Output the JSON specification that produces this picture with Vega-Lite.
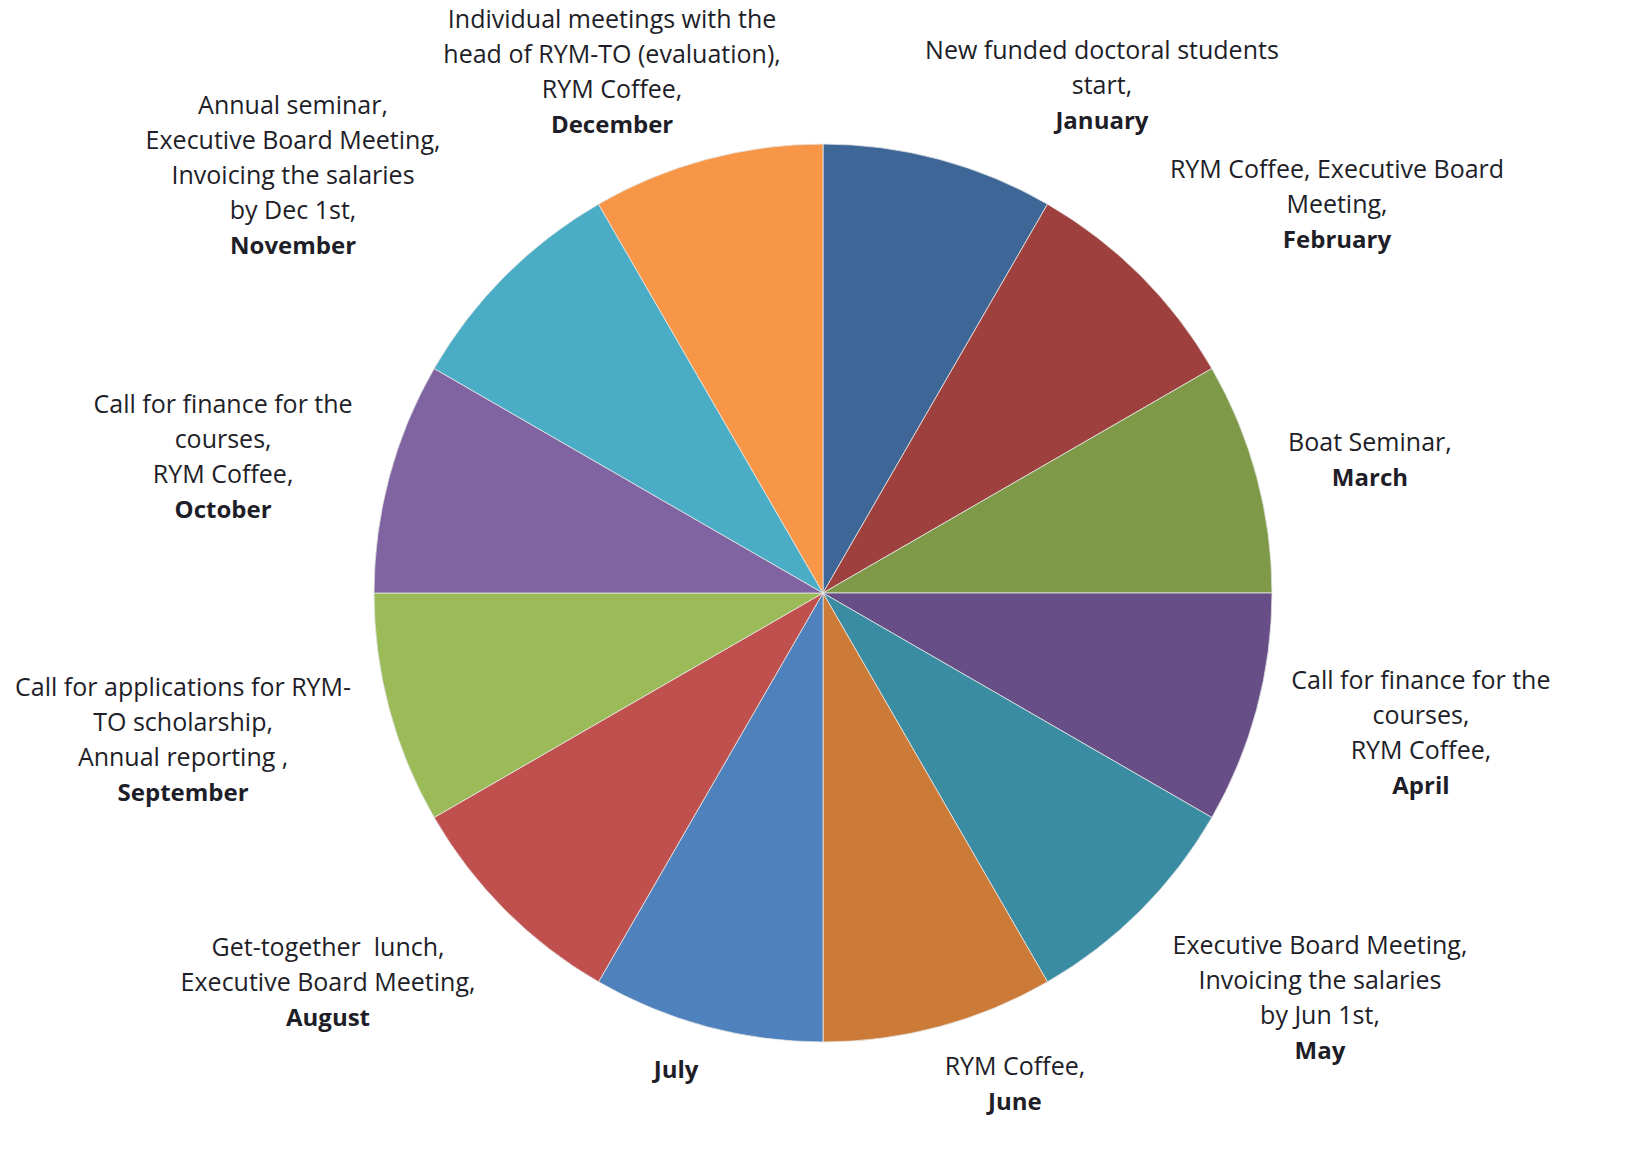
{
  "$schema": "https://vega.github.io/schema/vega-lite/v6.json",
  "width": 1646,
  "height": 1186,
  "autosize": "none",
  "padding": 0,
  "background": "white",
  "config": {"view": {"stroke": null}, "font": "Open Sans"},
  "data": {"values": [
    {"idx": 1, "month": "January", "value": 1, "desc": ["New funded doctoral students", "start,"]},
    {"idx": 2, "month": "February", "value": 1, "desc": ["RYM Coffee,  Executive Board", "Meeting,"]},
    {"idx": 3, "month": "March", "value": 1, "desc": ["Boat Seminar,"]},
    {"idx": 4, "month": "April", "value": 1, "desc": ["Call for finance for the", "courses,", "RYM Coffee,"]},
    {"idx": 5, "month": "May", "value": 1, "desc": ["Executive Board Meeting,", "Invoicing the salaries", "by Jun 1st,"]},
    {"idx": 6, "month": "June", "value": 1, "desc": ["RYM Coffee,"]},
    {"idx": 7, "month": "July", "value": 1, "desc": [""]},
    {"idx": 8, "month": "August", "value": 1, "desc": ["Get-together \u00a0lunch,", "Executive Board Meeting,"]},
    {"idx": 9, "month": "September", "value": 1, "desc": ["Call for applications for RYM-", "TO scholarship,", "Annual reporting ,"]},
    {"idx": 10, "month": "October", "value": 1, "desc": ["Call for finance for the", "courses,", "RYM Coffee,"]},
    {"idx": 11, "month": "November", "value": 1, "desc": ["Annual seminar,", "Executive Board Meeting,", "Invoicing the salaries", "by Dec 1st,"]},
    {"idx": 12, "month": "December", "value": 1, "desc": ["Individual meetings with the", "head of RYM-TO (evaluation),", "RYM Coffee,"]}
  ]},
  "encoding": {
    "theta": {"field": "value", "type": "quantitative", "stack": true},
    "order": {"field": "idx", "type": "quantitative"}
  },
  "layer": [
    {
      "mark": {"type": "arc", "outerRadius": 449, "stroke": "#e6e6e6", "strokeWidth": 0.8},
      "encoding": {
        "color": {
          "field": "month", "type": "nominal", "legend": null,
          "scale": {
            "domain": ["January", "February", "March", "April", "May", "June", "July", "August", "September", "October", "November", "December"],
            "range": ["#3E6798", "#9E413E", "#7E9A48", "#684E87", "#3A8CA3", "#CC7A37", "#4F81BD", "#C0504D", "#9BBB59", "#8064A2", "#4BACC6", "#F79646"]
          }
        }
      }
    },
    {"mark": {"type": "text", "radius": 560, "dx": 134, "dy": 7, "fontSize": 25, "lineHeight": 35, "align": "center", "baseline": "alphabetic", "color": "#1e1e28"},
     "encoding": {"text": {"condition": {"test": "datum.month === 'January'", "field": "desc"}, "value": ""}}},
    {"mark": {"type": "text", "radius": 560, "dx": 134, "dy": 77, "fontSize": 24, "fontWeight": "bold", "align": "center", "baseline": "alphabetic", "color": "#1e1e28"},
     "encoding": {"text": {"condition": {"test": "datum.month === 'January'", "field": "month"}, "value": ""}}},
    {"mark": {"type": "text", "radius": 560, "dx": 118, "dy": -19, "fontSize": 25, "lineHeight": 35, "align": "center", "baseline": "alphabetic", "color": "#1e1e28"},
     "encoding": {"text": {"condition": {"test": "datum.month === 'February'", "field": "desc"}, "value": ""}}},
    {"mark": {"type": "text", "radius": 560, "dx": 118, "dy": 51, "fontSize": 24, "fontWeight": "bold", "align": "center", "baseline": "alphabetic", "color": "#1e1e28"},
     "encoding": {"text": {"condition": {"test": "datum.month === 'February'", "field": "month"}, "value": ""}}},
    {"mark": {"type": "text", "radius": 560, "dx": 6, "dy": 3, "fontSize": 25, "lineHeight": 35, "align": "center", "baseline": "alphabetic", "color": "#1e1e28"},
     "encoding": {"text": {"condition": {"test": "datum.month === 'March'", "field": "desc"}, "value": ""}}},
    {"mark": {"type": "text", "radius": 560, "dx": 6, "dy": 38, "fontSize": 24, "fontWeight": "bold", "align": "center", "baseline": "alphabetic", "color": "#1e1e28"},
     "encoding": {"text": {"condition": {"test": "datum.month === 'March'", "field": "month"}, "value": ""}}},
    {"mark": {"type": "text", "radius": 560, "dx": 57, "dy": -49, "fontSize": 25, "lineHeight": 35, "align": "center", "baseline": "alphabetic", "color": "#1e1e28"},
     "encoding": {"text": {"condition": {"test": "datum.month === 'April'", "field": "desc"}, "value": ""}}},
    {"mark": {"type": "text", "radius": 560, "dx": 57, "dy": 56, "fontSize": 24, "fontWeight": "bold", "align": "center", "baseline": "alphabetic", "color": "#1e1e28"},
     "encoding": {"text": {"condition": {"test": "datum.month === 'April'", "field": "month"}, "value": ""}}},
    {"mark": {"type": "text", "radius": 560, "dx": 101, "dy": -35, "fontSize": 25, "lineHeight": 35, "align": "center", "baseline": "alphabetic", "color": "#1e1e28"},
     "encoding": {"text": {"condition": {"test": "datum.month === 'May'", "field": "desc"}, "value": ""}}},
    {"mark": {"type": "text", "radius": 560, "dx": 101, "dy": 70, "fontSize": 24, "fontWeight": "bold", "align": "center", "baseline": "alphabetic", "color": "#1e1e28"},
     "encoding": {"text": {"condition": {"test": "datum.month === 'May'", "field": "month"}, "value": ""}}},
    {"mark": {"type": "text", "radius": 560, "dx": 47, "dy": -59, "fontSize": 25, "lineHeight": 35, "align": "center", "baseline": "alphabetic", "color": "#1e1e28"},
     "encoding": {"text": {"condition": {"test": "datum.month === 'June'", "field": "desc"}, "value": ""}}},
    {"mark": {"type": "text", "radius": 560, "dx": 47, "dy": -24, "fontSize": 24, "fontWeight": "bold", "align": "center", "baseline": "alphabetic", "color": "#1e1e28"},
     "encoding": {"text": {"condition": {"test": "datum.month === 'June'", "field": "month"}, "value": ""}}},
    {"mark": {"type": "text", "radius": 560, "dx": -2, "dy": -56, "fontSize": 24, "fontWeight": "bold", "align": "center", "baseline": "alphabetic", "color": "#1e1e28"},
     "encoding": {"text": {"condition": {"test": "datum.month === 'July'", "field": "month"}, "value": ""}}},
    {"mark": {"type": "text", "radius": 560, "dx": -99, "dy": -33, "fontSize": 25, "lineHeight": 35, "align": "center", "baseline": "alphabetic", "color": "#1e1e28"},
     "encoding": {"text": {"condition": {"test": "datum.month === 'August'", "field": "desc"}, "value": ""}}},
    {"mark": {"type": "text", "radius": 560, "dx": -99, "dy": 37, "fontSize": 24, "fontWeight": "bold", "align": "center", "baseline": "alphabetic", "color": "#1e1e28"},
     "encoding": {"text": {"condition": {"test": "datum.month === 'August'", "field": "month"}, "value": ""}}},
    {"mark": {"type": "text", "radius": 560, "dx": -99, "dy": -42, "fontSize": 25, "lineHeight": 35, "align": "center", "baseline": "alphabetic", "color": "#1e1e28"},
     "encoding": {"text": {"condition": {"test": "datum.month === 'September'", "field": "desc"}, "value": ""}}},
    {"mark": {"type": "text", "radius": 560, "dx": -99, "dy": 63, "fontSize": 24, "fontWeight": "bold", "align": "center", "baseline": "alphabetic", "color": "#1e1e28"},
     "encoding": {"text": {"condition": {"test": "datum.month === 'September'", "field": "month"}, "value": ""}}},
    {"mark": {"type": "text", "radius": 560, "dx": -59, "dy": -35, "fontSize": 25, "lineHeight": 35, "align": "center", "baseline": "alphabetic", "color": "#1e1e28"},
     "encoding": {"text": {"condition": {"test": "datum.month === 'October'", "field": "desc"}, "value": ""}}},
    {"mark": {"type": "text", "radius": 560, "dx": -59, "dy": 70, "fontSize": 24, "fontWeight": "bold", "align": "center", "baseline": "alphabetic", "color": "#1e1e28"},
     "encoding": {"text": {"condition": {"test": "datum.month === 'October'", "field": "month"}, "value": ""}}},
    {"mark": {"type": "text", "radius": 560, "dx": -134, "dy": -83, "fontSize": 25, "lineHeight": 35, "align": "center", "baseline": "alphabetic", "color": "#1e1e28"},
     "encoding": {"text": {"condition": {"test": "datum.month === 'November'", "field": "desc"}, "value": ""}}},
    {"mark": {"type": "text", "radius": 560, "dx": -134, "dy": 57, "fontSize": 24, "fontWeight": "bold", "align": "center", "baseline": "alphabetic", "color": "#1e1e28"},
     "encoding": {"text": {"condition": {"test": "datum.month === 'November'", "field": "month"}, "value": ""}}},
    {"mark": {"type": "text", "radius": 560, "dx": -66, "dy": -24, "fontSize": 25, "lineHeight": 35, "align": "center", "baseline": "alphabetic", "color": "#1e1e28"},
     "encoding": {"text": {"condition": {"test": "datum.month === 'December'", "field": "desc"}, "value": ""}}},
    {"mark": {"type": "text", "radius": 560, "dx": -66, "dy": 81, "fontSize": 24, "fontWeight": "bold", "align": "center", "baseline": "alphabetic", "color": "#1e1e28"},
     "encoding": {"text": {"condition": {"test": "datum.month === 'December'", "field": "month"}, "value": ""}}}
  ]
}
